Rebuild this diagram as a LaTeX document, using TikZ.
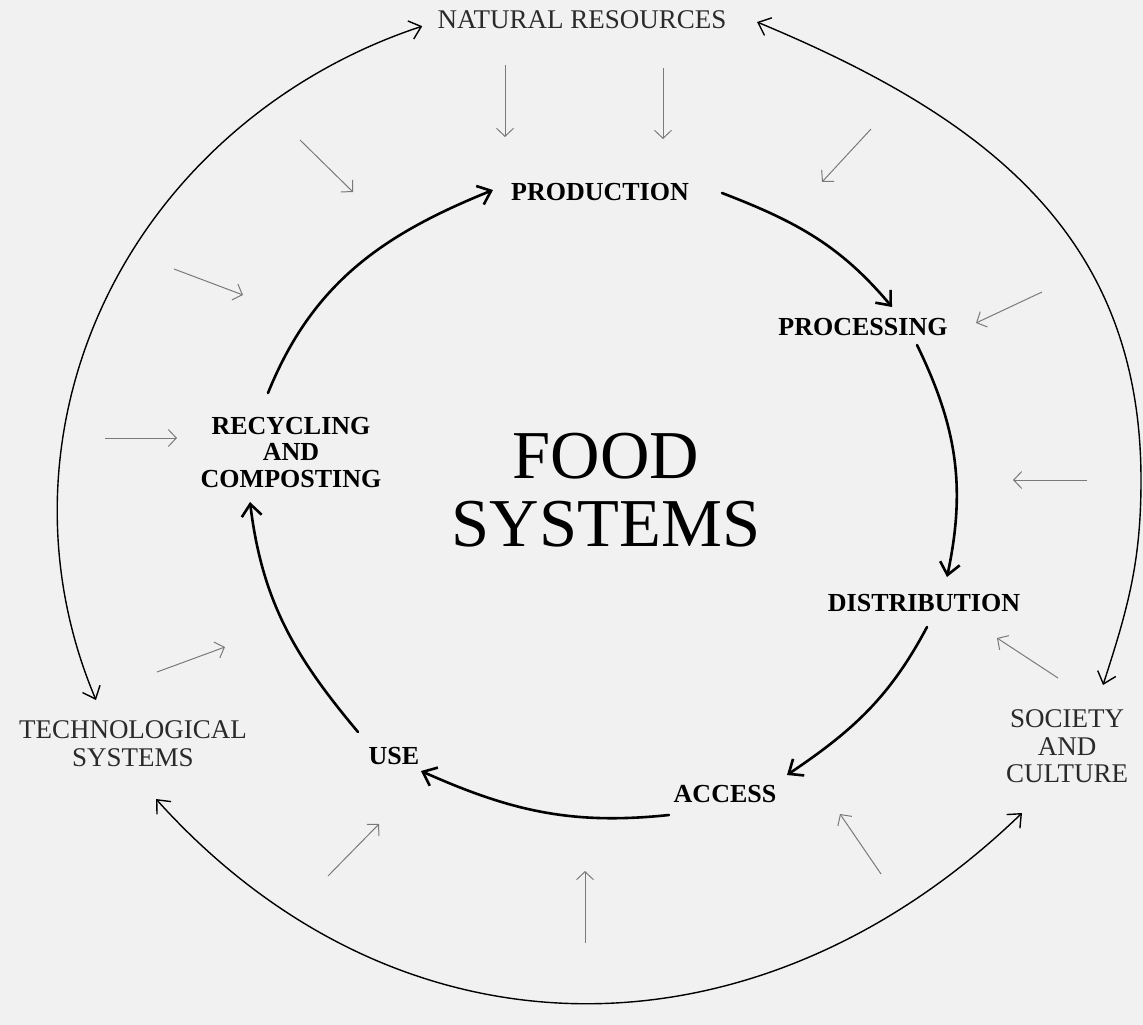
\documentclass[tikz,border=0pt]{standalone}
\usepackage{fontspec}
\setmainfont{Liberation Serif}
\usetikzlibrary{arrows.meta}
\definecolor{bgc}{HTML}{F1F1F1}
\definecolor{feedc}{HTML}{7A7A7A}
\definecolor{outtext}{HTML}{2A2A2A}
\begin{document}
\begin{tikzpicture}[x=1pt,y=1pt,
  outerlbl/.style={font=\fontsize{27}{27.5}\selectfont, text=outtext, align=center, inner sep=0pt},
  innerlbl/.style={font=\bfseries\fontsize{26}{26.5}\selectfont, text=black, align=center, inner sep=0pt},
  titlelbl/.style={font=\fontsize{68.5}{68}\selectfont, text=black, align=center, inner sep=0pt},
  cyc/.style={line width=2.6pt, line cap=round, -{Straight Barb[length=12pt,width=20pt]}},
  ring/.style={line width=1.4pt, {Straight Barb[length=11pt,width=19pt]}-{Straight Barb[length=11pt,width=19pt]}},
  feed/.style={line width=1pt, draw=feedc, -{Straight Barb[length=8pt,width=17pt]}}]
\fill[bgc] (0,0) rectangle (1143,-1025);
\useasboundingbox (0,0) rectangle (1143,-1025);

% labels
\node[outerlbl] (nat) at (582,-20) {NATURAL RESOURCES};
\node[outerlbl] (tech) at (133,-743.5) {TECHNOLOGICAL\\SYSTEMS};
\node[outerlbl] (soc) at (1067,-746.5) {SOCIETY\\AND\\CULTURE};
\node[innerlbl] (prod) at (600,-192) {PRODUCTION};
\node[innerlbl] (proc) at (863,-327) {PROCESSING};
\node[innerlbl] (dist) at (924,-603) {DISTRIBUTION};
\node[innerlbl] (acc) at (725,-794) {ACCESS};
\node[innerlbl] (use) at (394,-756) {USE};
\node[innerlbl] (recyc) at (291,-452.5) {RECYCLING\\AND\\COMPOSTING};
\node[titlelbl] (food) at (606,-490) {FOOD\\SYSTEMS};

% inner cycle end points
\coordinate (c1s) at (268,-393); \coordinate (c1e) at (493,-190);
\coordinate (c2s) at (722,-193); \coordinate (c2e) at (892,-307);
\coordinate (c3s) at (917,-345); \coordinate (c3e) at (947,-577);
\coordinate (c4s) at (927,-627); \coordinate (c4e) at (787,-775);
\coordinate (c5s) at (669,-815); \coordinate (c5e) at (421,-771);
\coordinate (c6s) at (358,-732); \coordinate (c6e) at (250,-502);
\draw[cyc] (c1s) to[out=68,in=202] (c1e);
\draw[cyc] (c2s) to[out=-21,in=130] (c2e);
\draw[cyc] (c3s) to[out=-64,in=78] (c3e);
\draw[cyc] (c4s) to[out=-118,in=34] (c4e);
\draw[cyc] (c5s) to[out=186,in=-24] (c5e);
\draw[cyc] (c6s) to[out=130,in=-83] (c6e);

% outer ring end points
\coordinate (rTT) at (96,-700);
\coordinate (rNn) at (757,-22);  \coordinate (rSn) at (1103,-685);
\coordinate (rR) at (1141,-480);
\coordinate (rTb) at (156,-799); \coordinate (rSb) at (1022,-813);
\draw[ring] (rTT) arc[start angle=201.7, end angle=109.3, x radius=545, y radius=513];
\draw[ring] (rNn) to[out=-22.6,in=90,looseness=1.05] (rR) to[out=-90,in=72] (rSn);
\draw[ring] (rTb) to[out=-48,in=224,looseness=1.08] (rSb);

% feeding arrows
\coordinate (f1s) at (505,-65);   \coordinate (f1e) at (505,-137);
\coordinate (f2s) at (663,-68);   \coordinate (f2e) at (663,-139);
\coordinate (f3s) at (871,-129);  \coordinate (f3e) at (822,-182);
\coordinate (f4s) at (1042,-292); \coordinate (f4e) at (976,-323);
\coordinate (f5s) at (1087,-480); \coordinate (f5e) at (1013,-480);
\coordinate (f6s) at (1058,-678); \coordinate (f6e) at (997,-638);
\coordinate (f7s) at (881,-874);  \coordinate (f7e) at (840,-814);
\coordinate (f8s) at (585,-943);  \coordinate (f8e) at (585,-871);
\coordinate (f9s) at (328,-876);  \coordinate (f9e) at (379,-824);
\coordinate (f10s) at (157,-672); \coordinate (f10e) at (225,-647);
\coordinate (f11s) at (105,-438); \coordinate (f11e) at (177,-438);
\coordinate (f12s) at (174,-269); \coordinate (f12e) at (243,-295);
\coordinate (f13s) at (300,-140); \coordinate (f13e) at (353,-192);
\foreach \i in {1,...,13} {\draw[feed] (f\i s) -- (f\i e);}
\end{tikzpicture}
\end{document}
